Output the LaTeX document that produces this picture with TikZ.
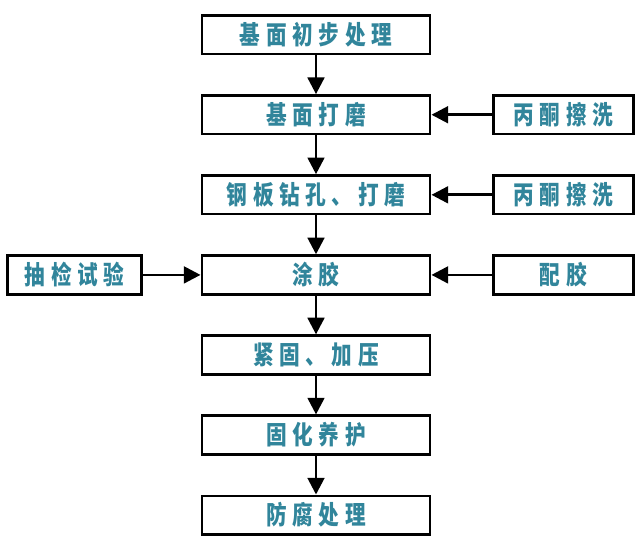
\documentclass[tikz,border=0pt]{standalone}
\usepackage{fontspec}
\usepackage{xcolor}
\usetikzlibrary{arrows.meta,positioning}
\newfontfamily\cjk[FakeStretch=0.8,LetterSpace=22]{Noto Sans CJK SC}
\definecolor{steptext}{RGB}{49,133,155}

\begin{document}
\begin{tikzpicture}[
  every node/.style={font=\cjk\bfseries\fontsize{22pt}{24pt}\selectfont, text=steptext},
  box/.style={draw=black, line width=2.2pt, minimum width=6.85cm,
              minimum height=1.16cm, inner sep=0pt},
  side/.style={box, minimum width=4.2cm},
  arr/.style={-{Triangle[length=5mm, width=5mm]}, line width=2.4pt}
]
\useasboundingbox (0,0) rectangle (19.23,-16.41);
\node[box] (prep) at (9.48,-1.04) {基面初步处理};
\node[box, below=1.165cm of prep] (grind) {基面打磨};
\node[box, below=1.165cm of grind] (drill) {钢板钻孔、打磨};
\node[box, below=1.165cm of drill] (coat) {涂胶};
\node[box, below=1.165cm of coat] (press) {紧固、加压};
\node[box, below=1.165cm of press] (cure) {固化养护};
\node[box, below=1.165cm of cure] (guard) {防腐处理};
\node[side, right=1.82cm of grind] (wash1) {丙酮擦洗};
\node[side, right=1.82cm of drill] (wash2) {丙酮擦洗};
\node[side, right=1.82cm of coat] (mix) {配胶};
\node[side, minimum width=4.02cm, left=1.73cm of coat] (test) {抽检试验};

\draw[arr] (prep) -- (grind);
\draw[arr] (grind) -- (drill);
\draw[arr] (drill) -- (coat);
\draw[arr] (coat) -- (press);
\draw[arr] (press) -- (cure);
\draw[arr] (cure) -- (guard);
\draw[arr] (wash1) -- (grind);
\draw[arr] (wash2) -- (drill);
\draw[arr] (mix) -- (coat);
\draw[arr] (test) -- (coat);
\end{tikzpicture}
\end{document}
